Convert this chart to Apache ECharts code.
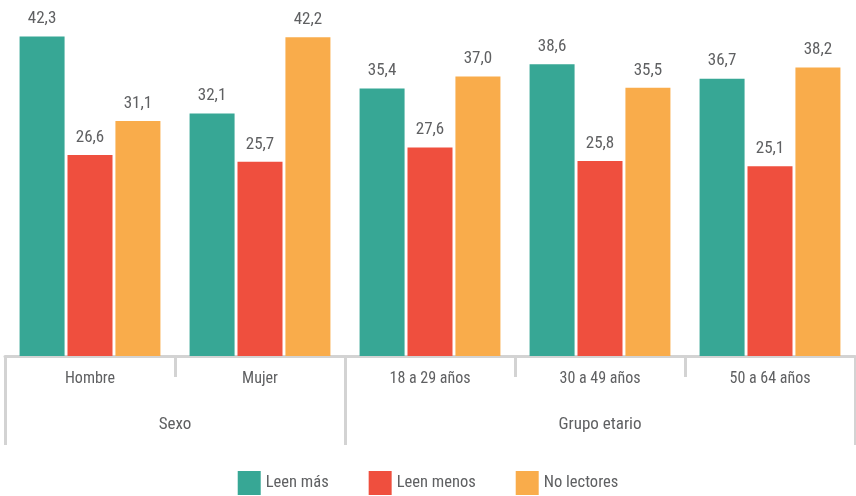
<!DOCTYPE html>
<html>
<head>
<meta charset="utf-8">
<script src="https://cdn.jsdelivr.net/npm/echarts@6/dist/echarts.min.js"></script>
<style>html,body{margin:0;padding:0;background:#fff}#c{width:856px;height:496px}</style>
</head>
<body>
<div id="c"></div>
<script>
const categories = ['Hombre', 'Mujer', '18 a 29 años', '30 a 49 años', '50 a 64 años'];
const groupLabels = ['Sexo', 'Grupo etario'];
const groupSpans = [2, 3];
const seriesNames = ['Leen más', 'Leen menos', 'No lectores'];
const leenMas = [42.3, 32.1, 35.4, 38.6, 36.7];
const leenMenos = [26.6, 25.7, 27.6, 25.8, 25.1];
const noLectores = [31.1, 42.2, 37.0, 35.5, 38.2];

const FONT = '"Roboto Condensed", "DejaVu Sans Condensed", sans-serif';
const TXT = '#5f6062';
const LINE = '#d3d3d3';
const colors = ['#37a795', '#ef4f3e', '#f9ac4b'];

// group boundaries and centers in category units
const bounds = [0];
groupSpans.forEach(s => bounds.push(bounds[bounds.length - 1] + s));
const centers = groupSpans.map((s, i) => bounds[i] + s / 2);

const fmt = v => v.toFixed(1).replace('.', ',');
const mk = (name, data, i) => ({
  name, type: 'bar', data, barWidth: 45, barGap: '6.5%',
  itemStyle: { color: colors[i] },
  label: { show: true, position: 'top', distance: 9, color: TXT, fontFamily: FONT, fontSize: 17,
    formatter: p => fmt(p.value) }
});

const chart = echarts.init(document.getElementById('c'));
chart.setOption({
  animation: false,
  textStyle: { fontFamily: FONT },
  grid: { left: 5, right: 1, top: 16, bottom: 140 },
  legend: {
    bottom: 1, left: 'center', padding: 0, icon: 'rect', itemWidth: 23, itemHeight: 24, itemGap: 40,
    textStyle: { color: TXT, fontFamily: FONT, fontSize: 16.5 },
    data: seriesNames
  },
  xAxis: [
    {
      type: 'category', data: categories, position: 'bottom',
      axisLine: { lineStyle: { color: LINE, width: 3 } },
      axisTick: { show: true, interval: 0, length: 21, lineStyle: { color: LINE, width: 3 } },
      axisLabel: { interval: 0, color: TXT, fontFamily: FONT, fontSize: 16, margin: 15 }
    },
    {
      type: 'value', min: 0, max: categories.length, position: 'bottom',
      axisLine: { show: false },
      splitLine: { show: false },
      axisTick: { show: true, customValues: bounds, length: 89, lineStyle: { color: LINE, width: 3 } },
      axisLabel: {
        customValues: centers, color: TXT, fontFamily: FONT, fontSize: 17, margin: 60,
        formatter: v => { const i = centers.findIndex(c => Math.abs(c - v) < 1e-6); return i >= 0 ? groupLabels[i] : ''; }
      }
    }
  ],
  yAxis: { type: 'value', min: 0, max: 45, show: false, splitLine: { show: false } },
  series: [mk(seriesNames[0], leenMas, 0), mk(seriesNames[1], leenMenos, 1), mk(seriesNames[2], noLectores, 2)]
});
</script>
</body>
</html>
